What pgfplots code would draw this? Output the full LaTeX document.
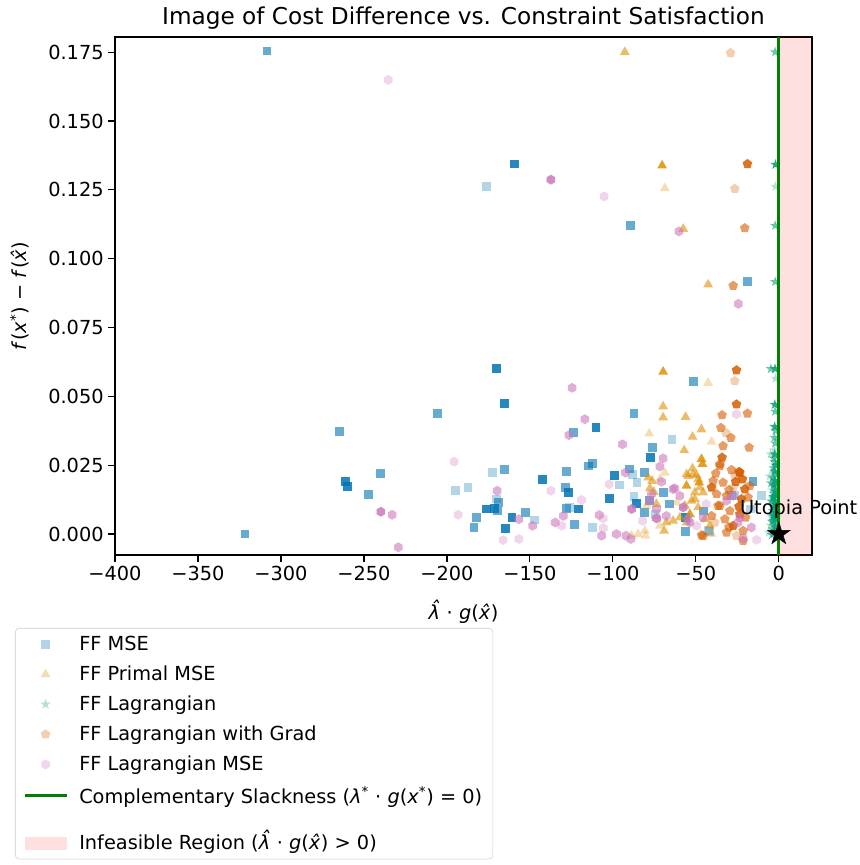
\documentclass[border=0pt]{standalone}
\usepackage{fontspec}
\setmainfont{DejaVu Sans}
\usepackage{pgfplots}
\pgfplotsset{compat=1.18}
\usetikzlibrary{plotmarks}

\definecolor{cbblue}{HTML}{0173B2}
\definecolor{cborange}{HTML}{DE8F05}
\definecolor{cbgreen}{HTML}{029E73}
\definecolor{cbred}{HTML}{D55E00}
\definecolor{cbpink}{HTML}{CC78BC}
\definecolor{mplgreen}{HTML}{008000}

% filled hexagon (pointy top)
\pgfdeclareplotmark{hexagon*}{%
  \pgfpathmoveto{\pgfqpointpolar{90}{\pgfplotmarksize}}%
  \pgfpathlineto{\pgfqpointpolar{150}{\pgfplotmarksize}}%
  \pgfpathlineto{\pgfqpointpolar{210}{\pgfplotmarksize}}%
  \pgfpathlineto{\pgfqpointpolar{270}{\pgfplotmarksize}}%
  \pgfpathlineto{\pgfqpointpolar{330}{\pgfplotmarksize}}%
  \pgfpathlineto{\pgfqpointpolar{30}{\pgfplotmarksize}}%
  \pgfpathclose
  \pgfusepathqfillstroke}
% filled five-pointed star
\pgfdeclareplotmark{star5*}{%
  \pgfpathmoveto{\pgfqpointpolar{90}{\pgfplotmarksize}}%
  \pgfpathlineto{\pgfpointpolar{126}{0.382\pgfplotmarksize}}%
  \pgfpathlineto{\pgfqpointpolar{162}{\pgfplotmarksize}}%
  \pgfpathlineto{\pgfpointpolar{198}{0.382\pgfplotmarksize}}%
  \pgfpathlineto{\pgfqpointpolar{234}{\pgfplotmarksize}}%
  \pgfpathlineto{\pgfpointpolar{270}{0.382\pgfplotmarksize}}%
  \pgfpathlineto{\pgfqpointpolar{306}{\pgfplotmarksize}}%
  \pgfpathlineto{\pgfpointpolar{342}{0.382\pgfplotmarksize}}%
  \pgfpathlineto{\pgfqpointpolar{18}{\pgfplotmarksize}}%
  \pgfpathlineto{\pgfpointpolar{54}{0.382\pgfplotmarksize}}%
  \pgfpathclose
  \pgfusepathqfillstroke}

\newcommand{\basefont}{\fontsize{14.5}{17.4}\selectfont}

\pgfplotsset{
  pts/.style n args={4}{only marks, mark=#1, mark size=#2,
    mark options={draw=#3, draw opacity=0, fill=#3, fill opacity=#4}},
  msq/.style={pts={square*}{3.3pt}{cbblue}{#1}},
  mtri/.style={pts={triangle*}{4.3pt}{cborange}{#1}},
  mstar/.style={pts={star5*}{4.1pt}{cbgreen}{#1}},
  mpent/.style={pts={pentagon*}{3.8pt}{cbred}{#1}},
  mhex/.style={pts={hexagon*}{3.7pt}{cbpink}{#1}},
  markleg/.style={legend image code/.code={%
    \draw[mark repeat=2,mark phase=2,##1] plot coordinates {(0pt,0pt) (15.75pt,0pt) (31.5pt,0pt)};}},
  lineleg/.style={legend image code/.code={\draw[##1] (0pt,0pt) -- (31.5pt,0pt);}},
  boxleg/.style={legend image code/.code={\path[draw=none, rounded corners=0pt, fill=red, fill opacity=0.12] (0pt,-11.4pt) rectangle (31.5pt,-1.6pt);}},
}

\begin{document}
\begin{tikzpicture}
\useasboundingbox (0,0) rectangle (645pt,648.75pt);
\begin{axis}[
  at={(86.25pt,232.5pt)}, anchor=south west,
  width=522.75pt, height=388.5pt, scale only axis,
  xmin=-400, xmax=20, ymin=-0.0076, ymax=0.1805,
  xtick={-400,-350,-300,-250,-200,-150,-100,-50,0},
  xticklabels={−400,−350,−300,−250,−200,−150,−100,−50,0},
  ytick={0,0.025,0.05,0.075,0.1,0.125,0.15,0.175},
  yticklabels={0.000,0.025,0.050,0.075,0.100,0.125,0.150,0.175},
  tick align=outside, tick pos=left,
  major tick length=5pt,
  axis line style={line width=0.9pt},
  tick style={line width=0.9pt, black},
  tick label style={font=\basefont},
  title={Image of Cost Difference vs. Constraint Satisfaction},
  title style={font=\fontsize{17.4}{21}\selectfont, at={(axis description cs:0.5,1)}, anchor=base, yshift=3pt},
  xlabel={\textit{λ̂} · \textit{g}(\textit{x̂})},
  xlabel style={font=\basefont, at={(axis description cs:0.5,0)}, anchor=base, yshift=-48pt},
  ylabel={\textit{f}(\textit{x}\textsuperscript{*}) − \textit{f}(\textit{x̂})},
  ylabel style={font=\basefont, at={(axis description cs:-0.1263,0.5)}, anchor=base},
  clip mode=individual,
  legend style={font=\basefont, at={(axis description cs:-0.1435,-0.1409)}, anchor=north west,
    draw=black!20, rounded corners=3pt, row sep=6pt, inner sep=4pt, inner xsep=6pt,
    /tikz/every odd column/.append style={column sep=6.5pt}},
  legend cell align=left,
]
% infeasible half-plane
\addplot[draw=none, fill=red, fill opacity=0.12, forget plot]
  coordinates {(0,-0.01) (20,-0.01) (20,0.19) (0,0.19)};

% ---- FF MSE
\addplot[msq={0.3}, forget plot] coordinates {
(-176.1,0.1262) (-195.0,0.0157) (-187.3,0.0168) (-172.7,0.0224) (-170.1,0.0127)
(-147.0,0.0051) (-64.3,0.0344) (-88.1,0.0217) (-95.8,0.0178) (-85.4,0.0187)
(-87.3,0.0137) (-126.3,0.0097) (-112.5,0.0024) (-42.0,0.0008) (-10.4,0.0139)
(-26.5,0.0139) (-16.9,0.0091) (-74.1,0.0072) (-28.5,0.0139) (-42.6,0.0012)};
\addplot[msq={0.6}, forget plot] coordinates {
(-308.4,0.1754) (-321.7,0.0000) (-205.8,0.0438) (-264.5,0.0372) (-239.8,0.0219)
(-247.4,0.0143) (-165.2,0.0234) (-168.7,0.0115) (-169.7,0.0084) (-182.1,0.0060)
(-183.7,0.0024) (-152.6,0.0077) (-127.9,0.0228) (-128.3,0.0169) (-127.9,0.0093)
(-87.3,0.0438) (-123.5,0.0368) (-76.3,0.0314) (-114.9,0.0247) (-112.5,0.0257)
(-89.8,0.0236) (-80.7,0.0223) (-122.9,0.0036) (-65.7,0.0109) (-77.7,0.0121)
(-51.6,0.0553) (-45.6,0.0084) (-56.2,0.0008) (-80.7,0.0079) (-89.2,0.1120)
(-18.9,0.0916) (-15.5,0.0190) (-69.7,0.0151)};
\addplot[msq={0.85}, forget plot] coordinates {
(-159.4,0.1344) (-170.1,0.0600) (-165.5,0.0474) (-261.0,0.0190) (-260.0,0.0173)
(-142.4,0.0198) (-176.1,0.0091) (-171.1,0.0094) (-160.8,0.0060) (-164.5,0.0021)
(-126.5,0.0151) (-110.2,0.0386) (-77.3,0.0278) (-99.2,0.0214) (-102.2,0.0129)
(-85.7,0.0112) (-120.9,0.0091) (-56.2,0.0060)};

% ---- FF Primal MSE
\addplot[mtri={0.3}, forget plot] coordinates {
(-68.7,0.1256) (-42.6,0.0549) (-78.1,0.0365) (-40.5,0.0335) (-68.7,0.0223)
(-71.7,0.0199) (-80.7,0.0012) (-88.7,-0.0006) (-79.7,0.0103) (-80.3,-0.0006)
(-71.7,0.0030) (-40.5,0.0000) (-84.8,0.0000) (-61.6,0.0115)};
\addplot[mtri={0.6}, forget plot] coordinates {
(-92.8,0.1750) (-57.6,0.1108) (-42.6,0.0906) (-69.7,0.0463) (-69.7,0.0423)
(-56.2,0.0425) (-46.6,0.0380) (-52.0,0.0353) (-57.0,0.0304) (-52.0,0.0238)
(-55.6,0.0217) (-49.6,0.0214) (-78.7,0.0205) (-76.3,0.0193) (-73.7,0.0109)
(-63.7,0.0048) (-55.6,0.0042) (-50.6,0.0151) (-45.6,0.0151) (-52.6,0.0121)
(-48.6,0.0097) (-77.7,0.0166) (-75.3,0.0153) (-69.1,0.0012) (-67.7,0.0042)
(-44.6,0.0054) (-59.6,0.0060) (-51.6,0.0217) (-48.6,0.0199) (-54.6,0.0211)
(-47.6,0.0169) (-50.6,0.0127) (-56.6,0.0103) (-41.6,0.0030)};
\addplot[mtri={0.85}, forget plot] coordinates {
(-70.3,0.1338) (-69.7,0.0589) (-46.6,0.0272) (-46.0,0.0254) (-55.6,0.0175)
(-48.0,0.0187) (-53.6,0.0072)};

% ---- FF Lagrangian
\addplot[mstar={0.3}, forget plot] coordinates {
(-2.1,0.1262) (-2.0,0.0565) (-2.8,0.0305) (-3.8,0.0160) (-4.2,0.0115)
(-4.5,0.0062) (-5.0,0.0032) (-6.0,0.0006) (-5.5,0.0210) (-4.9,0.0290)};
\addplot[mstar={0.6}, forget plot] coordinates {
(-2.2,0.1750) (-2.2,0.1120) (-2.2,0.0916) (-2.2,0.0445) (-2.0,0.0375)
(-2.6,0.0350) (-2.2,0.0330) (-3.0,0.0275) (-2.4,0.0262) (-3.2,0.0240)
(-2.1,0.0218) (-3.5,0.0205) (-2.0,0.0185) (-2.6,0.0170) (-2.9,0.0148)
(-3.4,0.0130) (-2.1,0.0108) (-2.4,0.0092) (-3.6,0.0085) (-2.8,0.0070)
(-3.2,0.0048) (-2.6,0.0040) (-3.5,0.0018) (-2.4,0.0012) (-2.8,0.0003)
(-4.0,-0.0003) (-4.8,0.0600) (-4.4,0.0120) (-4.6,0.0185) (-3.9,0.0045)};
\addplot[mstar={0.85}, forget plot] coordinates {
(-2.0,0.1342) (-2.3,0.0600) (-2.4,0.0470) (-2.5,0.0390) (-2.5,0.0290)
(-2.0,0.0250) (-2.6,0.0228) (-2.4,0.0195) (-3.0,0.0178) (-2.2,0.0155)
(-2.0,0.0140) (-2.5,0.0122) (-3.0,0.0100) (-2.0,0.0078) (-2.2,0.0055)
(-2.0,0.0025) (-3.3,0.0065) (-3.1,0.0135)};

% ---- FF Lagrangian with Grad
\addplot[mpent={0.3}, forget plot] coordinates {
(-29.1,0.1747) (-26.5,0.1254) (-26.5,0.0556) (-31.9,0.0368) (-27.5,0.0169)
(-38.6,0.0042) (-25.5,-0.0006) (-26.5,0.0211)};
\addplot[mpent={0.6}, forget plot] coordinates {
(-20.5,0.1111) (-27.5,0.0902) (-18.9,0.0438) (-34.2,0.0432) (-34.9,0.0386)
(-28.9,0.0350) (-17.9,0.0314) (-35.5,0.0254) (-28.5,0.0233) (-39.6,0.0193)
(-33.6,0.0187) (-37.5,0.0145) (-31.5,0.0139) (-18.5,0.0133) (-36.6,0.0103)
(-29.5,0.0084) (-32.5,0.0054) (-21.5,0.0012) (-31.5,0.0006) (-46.6,-0.0004)
(-40.5,0.0066) (-35.5,0.0247) (-17.5,0.0175) (-33.6,0.0320) (-35.5,0.0103)
(-21.5,-0.0024) (-45.6,-0.0006) (-30.0,0.0160) (-38.0,0.0220) (-30.0,0.0025)
(-20.0,0.0060)};
\addplot[mpent={0.85}, forget plot] coordinates {
(-18.9,0.1344) (-25.5,0.0595) (-25.5,0.0471) (-34.2,0.0278) (-23.5,0.0223)
(-21.9,0.0199) (-40.5,0.0169) (-20.5,0.0163) (-22.5,0.0127) (-23.5,0.0072)
(-27.5,0.0030) (-23.9,0.0226) (-26.0,0.0190) (-24.0,0.0100)};

% ---- FF Lagrangian MSE
\addplot[mhex={0.3}, forget plot] coordinates {
(-235.3,0.1649) (-105.2,0.1226) (-195.6,0.0263) (-193.2,0.0070) (-166.1,-0.0022)
(-156.6,-0.0018) (-137.3,0.0157) (-130.9,0.0030) (-102.2,0.0181) (-118.9,0.0124)
(-105.8,0.0057) (-105.8,0.0021) (-82.1,0.0048) (-25.5,0.0435) (-13.4,-0.0021)
(-43.6,0.0109) (-49.6,0.0030)};
\addplot[mhex={0.6}, forget plot] coordinates {
(-60.2,0.1099) (-24.4,0.0836) (-124.5,0.0531) (-169.7,0.0157) (-233.0,0.0070)
(-229.3,-0.0048) (-156.6,0.0054) (-148.4,0.0030) (-134.7,0.0042) (-129.8,0.0066)
(-126.5,0.0359) (-116.9,0.0417) (-94.2,0.0326) (-69.7,0.0275) (-71.7,0.0245)
(-92.4,0.0223) (-70.7,0.0190) (-108.2,0.0069) (-106.8,-0.0006) (-97.8,0.0000)
(-92.2,-0.0006) (-89.2,-0.0018) (-63.7,0.0163) (-59.6,0.0139) (-67.7,0.0066)
(-76.7,0.0145) (-62.7,0.0166) (-73.7,0.0091) (-27.5,0.0139) (-24.5,0.0042)
(-16.5,0.0024) (-21.5,-0.0016) (-77.7,0.0121) (-53.6,0.0042) (-31.5,0.0121)
(-54.6,0.0054) (-45.6,0.0060) (-23.5,0.0060)};
\addplot[mhex={0.85}, forget plot] coordinates {
(-137.3,0.1287) (-239.8,0.0081) (-88.7,0.0091) (-73.7,0.0057) (-57.6,0.0097)};

% complementary slackness boundary
\addplot[mplgreen, line width=2pt, forget plot] coordinates {(0,-0.0076) (0,0.1805)};

% utopia point
\addplot[only marks, mark=star5*, mark size=8.8pt, mark options={fill=black, draw=black}, forget plot]
  coordinates {(0,0)};
\node[anchor=base west, font=\basefont, inner sep=0pt] at (axis cs:-23.5,0.0072) {Utopia Point};

% legend
\addlegendimage{markleg, only marks, mark=square*, mark size=3.3pt, mark options={draw opacity=0, fill=cbblue, fill opacity=0.3}}
\addlegendentry{FF MSE}
\addlegendimage{markleg, only marks, mark=triangle*, mark size=4.3pt, mark options={draw opacity=0, fill=cborange, fill opacity=0.3}}
\addlegendentry{FF Primal MSE}
\addlegendimage{markleg, only marks, mark=star5*, mark size=4.1pt, mark options={draw opacity=0, fill=cbgreen, fill opacity=0.3}}
\addlegendentry{FF Lagrangian}
\addlegendimage{markleg, only marks, mark=pentagon*, mark size=3.8pt, mark options={draw opacity=0, fill=cbred, fill opacity=0.3}}
\addlegendentry{FF Lagrangian with Grad}
\addlegendimage{markleg, only marks, mark=hexagon*, mark size=3.7pt, mark options={draw opacity=0, fill=cbpink, fill opacity=0.3}}
\addlegendentry{FF Lagrangian MSE}
\addlegendimage{lineleg, mplgreen, line width=2pt}
\addlegendentry{\rule[-8.4pt]{0pt}{14.75pt}Complementary Slackness (\textit{λ}\textsuperscript{*} · \textit{g}(\textit{x}\textsuperscript{*}) = 0)}
\addlegendimage{boxleg}
\addlegendentry{\rule{0pt}{23pt}Infeasible Region (\textit{λ̂} · \textit{g}(\textit{x̂}) > 0)}
\end{axis}
\end{tikzpicture}
\end{document}
